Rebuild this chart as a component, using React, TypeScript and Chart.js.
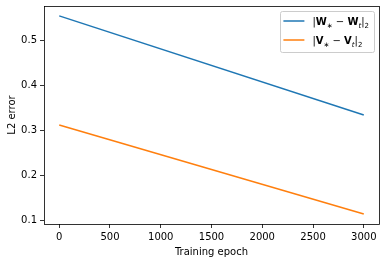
import React, { useEffect, useRef } from "react";
import { Chart, registerables } from "chart.js";
Chart.register(...registerables);

const epochs = [0, 3000];
const wError = [0.555, 0.335];
const vError = [0.313, 0.115];
const xTicks = [0, 500, 1000, 1500, 2000, 2500, 3000];
const yTicks = [0.1, 0.2, 0.3, 0.4, 0.5];
const seriesLetters = ["W", "V"];
const seriesLabels = ["|W∗ − Wt|2", "|V∗ − Vt|2"];
const seriesColors = ["#1f77b4", "#ff7f0e"];
const xTitle = "Training epoch";
const yTitle = "L2 error";

const FONT = "'DejaVu Sans', sans-serif";

type Seg = { t: string; f: string; sub?: boolean };
function labelSegs(letter: string): Seg[] {
  return [
    { t: "|", f: "" },
    { t: letter, f: "bold " },
    { t: "∗", f: "", sub: true },
    { t: " − ", f: "" },
    { t: letter, f: "bold " },
    { t: "t", f: "italic ", sub: true },
    { t: "|", f: "" },
    { t: "2", f: "", sub: true },
  ];
}

function segFont(s: Seg) {
  return `${s.f}${s.sub ? 7 : 10}px ${FONT}`;
}

const framePlugin = {
  id: "frame",
  afterDatasetsDraw(chart: any) {
    const { ctx, chartArea: a } = chart;
    ctx.save();
    ctx.strokeStyle = "#000";
    ctx.lineWidth = 0.8;
    ctx.strokeRect(Math.round(a.left) + 0.5, Math.round(a.top) + 0.5, Math.round(a.right - a.left), Math.round(a.bottom - a.top));
    ctx.restore();
  },
  afterDraw(chart: any) {
    const { ctx, chartArea: a } = chart;
    ctx.save();
    const segsList = seriesLetters.map(labelSegs);
    let textW = 0;
    segsList.forEach((segs) => {
      let w = 0;
      segs.forEach((s) => {
        ctx.font = segFont(s);
        w += ctx.measureText(s.t).width;
      });
      textW = Math.max(textW, w);
    });
    const pad = 3, handle = 21, gap = 8;
    const boxW = Math.max(pad + handle + gap + textW + 5, 91);
    const boxH = 41;
    const right = a.right - 5;
    const top = a.top + 5;
    const left = right - boxW;
    ctx.beginPath();
    (ctx as any).roundRect(Math.round(left) + 0.5, Math.round(top) + 0.5, Math.round(boxW), boxH, 2);
    ctx.fillStyle = "rgba(255,255,255,0.8)";
    ctx.fill();
    ctx.strokeStyle = "#cccccc";
    ctx.lineWidth = 1;
    ctx.stroke();
    segsList.forEach((segs, i) => {
      const rowY = top + 10 + i * 19;
      ctx.beginPath();
      ctx.strokeStyle = seriesColors[i];
      ctx.lineWidth = 1.5;
      ctx.moveTo(left + pad, rowY);
      ctx.lineTo(left + pad + handle, rowY);
      ctx.stroke();
      let x = left + pad + handle + gap;
      ctx.fillStyle = "#000";
      ctx.textBaseline = "alphabetic";
      segs.forEach((s) => {
        ctx.font = segFont(s);
        ctx.fillText(s.t, x, rowY + 4 + (s.sub ? 2.5 : 0));
        x += ctx.measureText(s.t).width;
      });
    });
    ctx.restore();
  },
};

function bounds(vals: number[]) {
  const mn = Math.min(...vals), mx = Math.max(...vals);
  const m = (mx - mn) * 0.05;
  return [mn - m, mx + m];
}

export default function App() {
  const ref = useRef<HTMLCanvasElement>(null);
  useEffect(() => {
    const [xMin, xMax] = bounds(epochs);
    const [yMin, yMax] = bounds([...wError, ...vError]);
    const tickFont = { family: FONT, size: 10 };
    const grid = {
      display: true,
      drawOnChartArea: false,
      drawTicks: true,
      tickLength: 4,
      tickWidth: 0.8,
      tickColor: "#000",
    };
    const chart = new Chart(ref.current!, {
      type: "line",
      data: {
        datasets: [wError, vError].map((vals, i) => ({
          label: seriesLabels[i],
          data: epochs.map((x, j) => ({ x, y: vals[j] })),
          borderColor: seriesColors[i],
          backgroundColor: seriesColors[i],
          borderWidth: 1.5,
          pointRadius: 0,
          tension: 0,
          fill: false,
        })),
      },
      options: {
        responsive: false,
        animation: false,
        devicePixelRatio: 1,
        layout: { padding: { left: 0, top: 6, right: 7, bottom: 0 } },
        plugins: { legend: { display: false }, tooltip: { enabled: false } },
        scales: {
          x: {
            type: "linear",
            min: xMin,
            max: xMax,
            afterBuildTicks: (s: any) => {
              s.ticks = xTicks.map((v) => ({ value: v }));
            },
            afterFit: (s: any) => {
              s.height = 38;
              s.paddingLeft = 0;
              s.paddingRight = 0;
              s.paddingTop = 0;
              s.paddingBottom = 0;
            },
            ticks: { font: tickFont, color: "#000", padding: 3, maxRotation: 0, autoSkip: false, callback: (v: any) => String(v) },
            grid,
            border: { display: false },
            title: { display: true, text: xTitle, font: tickFont, color: "#000", padding: { top: 0, bottom: 4 } },
          },
          y: {
            type: "linear",
            min: yMin,
            max: yMax,
            afterBuildTicks: (s: any) => {
              s.ticks = yTicks.map((v) => ({ value: v }));
            },
            afterFit: (s: any) => {
              s.width = 44;
              s.paddingLeft = 0;
              s.paddingRight = 0;
              s.paddingTop = 0;
              s.paddingBottom = 0;
            },
            ticks: { font: tickFont, color: "#000", padding: 3, autoSkip: false, callback: (v: any) => Number(v).toFixed(1) },
            grid,
            border: { display: false },
            title: { display: true, text: yTitle, font: tickFont, color: "#000", padding: { top: 6, bottom: 0 } },
          },
        },
      } as any,
      plugins: [framePlugin],
    });
    return () => chart.destroy();
  }, []);
  return (
    <div style={{ position: "fixed", left: 0, top: 0, width: 386, height: 262, background: "#fff" }}>
      <canvas ref={ref} width={386} height={262} style={{ display: "block", width: 386, height: 262 }} />
    </div>
  );
}
